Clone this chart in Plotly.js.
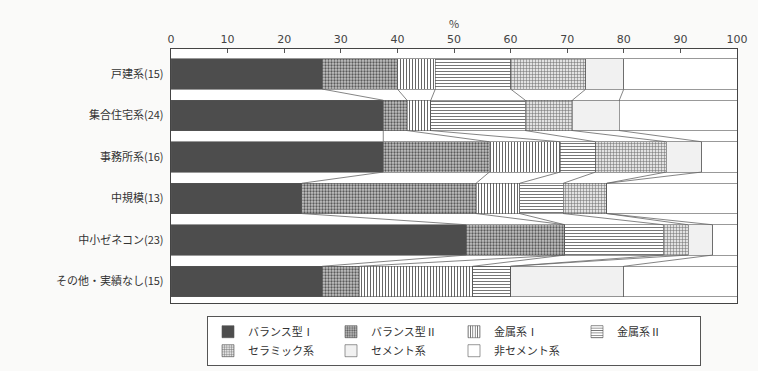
<!DOCTYPE html>
<html><head><meta charset="utf-8">
<script src="https://cdn.plot.ly/plotly-3.0.1.min.js"></script>
<style>html,body{margin:0;padding:0;background:#fafaf9;}#c{width:758px;height:371px;}</style>
</head><body><div id="c"></div>
<script>
const categories = ["戸建系(15)","集合住宅系(24)","事務所系(16)","中規模(13)","中小ゼネコン(23)","その他・実績なし(15)"];
const seriesNames = ["バランス型Ⅰ","バランス型Ⅱ","金属系Ⅰ","金属系Ⅱ","セラミック系","セメント系","非セメント系"];
const balance1   = [26.7, 37.5, 37.5, 23.1, 52.2, 26.7];
const balance2   = [13.3,  4.2, 18.75, 30.8, 17.4, 6.6];
const metal1     = [ 6.7,  4.2, 12.5,  7.7,  0.0, 20.0];
const metal2     = [13.3, 16.7,  6.25, 7.7, 17.4,  6.7];
const ceramic    = [13.3,  8.3, 12.5,  7.7,  4.35, 0.0];
const cement     = [ 6.7,  8.3,  6.25, 0.0,  4.35, 20.0];
const nonCement  = [20.0, 20.8,  6.25, 23.1, 4.3, 20.0];
const xTicks = [0,10,20,30,40,50,60,70,80,90,100];

const series = [balance1, balance2, metal1, metal2, ceramic, cement, nonCement];
const styles = [
  {color:'#4d4d4d'},
  {color:'#b5b5b5', pattern:{shape:'.', bgcolor:'#c4c4c4', fgcolor:'#5a5a5a', size:3, solidity:0.45}},
  {color:'#ffffff', pattern:{shape:'|', bgcolor:'#ffffff', fgcolor:'#666', size:3, solidity:0.35}},
  {color:'#ffffff', pattern:{shape:'-', bgcolor:'#ffffff', fgcolor:'#777', size:3, solidity:0.35}},
  {color:'#dddddd', pattern:{shape:'+', bgcolor:'#e2e2e2', fgcolor:'#6a6a6a', size:3, solidity:0.3}},
  {color:'#f1f1f1'},
  {color:'#ffffff'}
];
const yIdx = categories.map((_, i) => i);
const barW = 0.73;

const traces = series.map((vals, k) => ({
  type:'bar', orientation:'h', name: seriesNames[k],
  x: vals, y: yIdx, width: barW,
  marker: Object.assign({line:{color:'#555', width:0.6}}, styles[k]),
  hoverinfo:'skip'
}));

// series (connector) lines between adjacent bars
const cum = categories.map((_, i) => { let s = 0; return series.map(v => (s += v[i])); });
const lx = [], ly = [];
for (let k = 0; k < series.length - 1; k++) {
  for (let i = 0; i < categories.length - 1; i++) {
    lx.push(cum[i][k], cum[i+1][k], null);
    ly.push(i + barW/2, i + 1 - barW/2, null);
  }
}
traces.push({type:'scatter', mode:'lines', x: lx, y: ly, showlegend:false,
  line:{color:'#666', width:0.8}, hoverinfo:'skip', cliponaxis:true});

const layout = {
  width:758, height:371,
  paper_bgcolor:'#fafaf9', plot_bgcolor:'#ffffff',
  barmode:'stack',
  margin:{l:171, r:21, t:49, b:68, autoexpand:false},
  font:{family:'"Noto Sans CJK JP", "Noto Sans", sans-serif', color:'#333'},
  xaxis:{side:'top', range:[0,100], tickvals:xTicks, ticktext:xTicks.map(String),
    ticks:'inside', ticklen:4, tickcolor:'#555', showgrid:false, zeroline:false,
    showline:true, linecolor:'#444', linewidth:1.2, mirror:true,
    tickfont:{size:11, color:'#444', family:'"DejaVu Sans", sans-serif'},
    title:{text:'%', font:{size:11, color:'#444'}, standoff:2}},
  yaxis:{range:[5.52, -0.6], tickvals:yIdx, ticktext:categories, ticks:'',
    showgrid:false, zeroline:false, showline:true, linecolor:'#444', linewidth:1.2, mirror:true,
    tickfont:{size:11, color:'#333'}, ticklabelstandoff:4},
  legend:{orientation:'h', x:0.5, xanchor:'center', y:-0.052, yanchor:'top',
    traceorder:'normal', entrywidth:78, font:{size:11, color:'#333'},
    bordercolor:'#555', borderwidth:1, bgcolor:'#ffffff', itemwidth:30,
    tracegroupgap:0},
  showlegend:true
};
Plotly.newPlot('c', traces, layout, {staticPlot:true});
</script></body></html>
